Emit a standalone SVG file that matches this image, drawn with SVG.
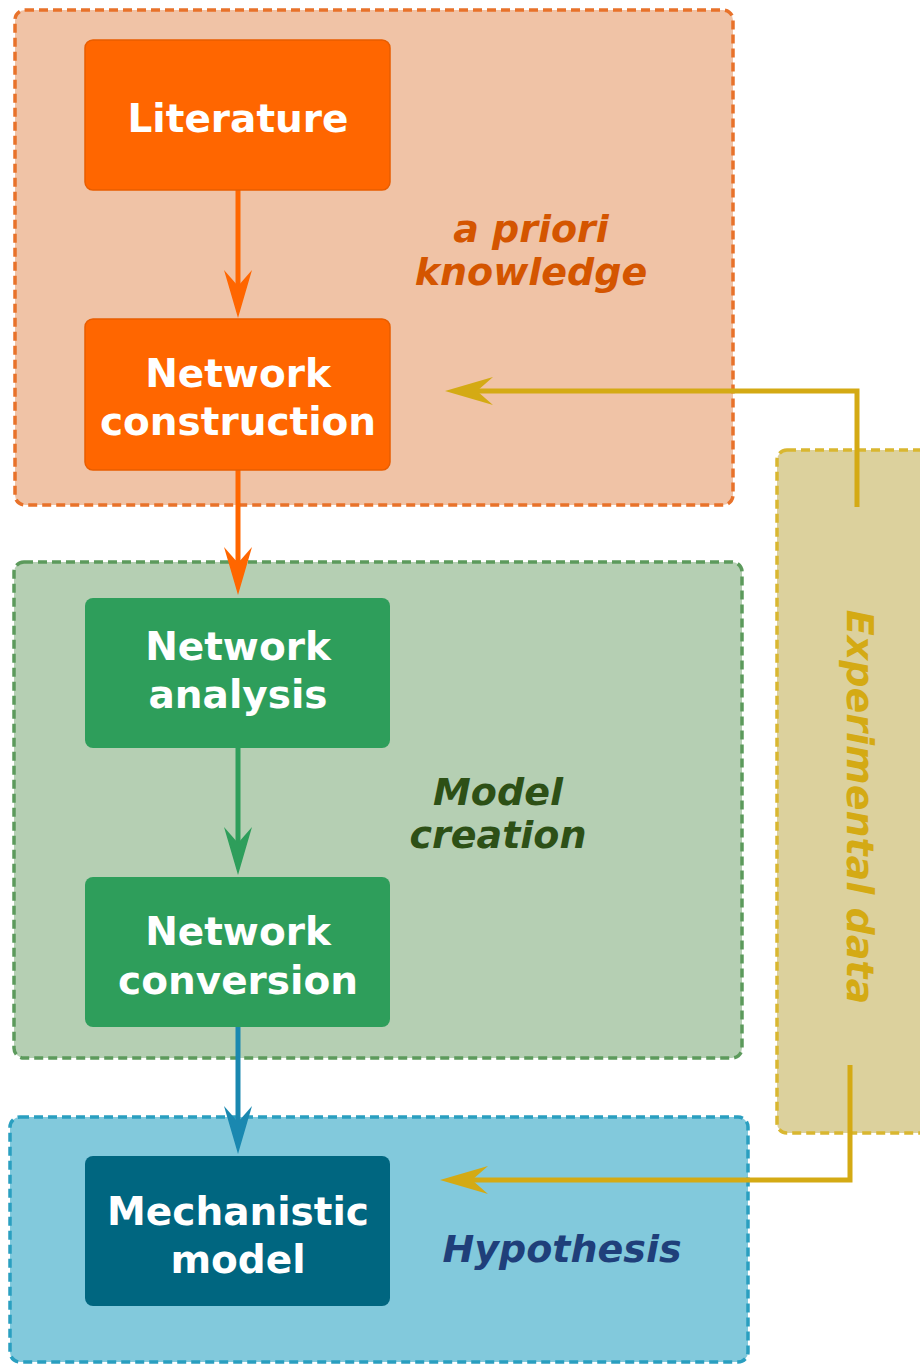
<svg xmlns="http://www.w3.org/2000/svg" width="920" height="1365" viewBox="0 0 920 1365">
<defs>
<style>
.cont{stroke-width:3.5;stroke-dasharray:9 5}
.node text{font-family:"DejaVu Sans",sans-serif;font-weight:bold;font-size:39px;fill:#ffffff;text-anchor:middle}
.lbl{font-family:"DejaVu Sans",sans-serif;font-weight:bold;font-style:italic;font-size:38px;text-anchor:middle}
.conn{fill:none;stroke-width:5}
</style>
<marker id="ao" markerUnits="userSpaceOnUse" viewBox="0 0 48 28" refX="16" refY="14" markerWidth="48" markerHeight="28" orient="auto"><path d="M0,0 L48,14 L0,28 L16,14 Z" fill="#ff6600"/></marker>
<marker id="ag" markerUnits="userSpaceOnUse" viewBox="0 0 48 28" refX="16" refY="14" markerWidth="48" markerHeight="28" orient="auto"><path d="M0,0 L48,14 L0,28 L16,14 Z" fill="#2e9e5b"/></marker>
<marker id="ab" markerUnits="userSpaceOnUse" viewBox="0 0 48 28" refX="16" refY="14" markerWidth="48" markerHeight="28" orient="auto"><path d="M0,0 L48,14 L0,28 L16,14 Z" fill="#1a88b0"/></marker>
<marker id="ay" markerUnits="userSpaceOnUse" viewBox="0 0 48 28" refX="16" refY="14" markerWidth="48" markerHeight="28" orient="auto"><path d="M0,0 L48,14 L0,28 L16,14 Z" fill="#d4aa14"/></marker>
</defs>
<rect width="920" height="1365" fill="#ffffff"/>

<g id="group-apriori">
<rect class="cont" x="15" y="10" width="718" height="495" rx="10" fill="#f0c3a6" stroke="#e8722a"/>
<text class="lbl" fill="#d45500" x="531" y="242">a priori</text>
<text class="lbl" fill="#d45500" x="531" y="285">knowledge</text>
</g>
<g id="group-model">
<rect class="cont" x="14" y="562" width="728" height="496" rx="10" fill="#b5cfb3" stroke="#5c9a5c"/>
<text class="lbl" fill="#2d5016" x="498" y="805">Model</text>
<text class="lbl" fill="#2d5016" x="498" y="848">creation</text>
</g>
<g id="group-hypothesis">
<rect class="cont" x="10" y="1117" width="738" height="245" rx="10" fill="#82c9dc" stroke="#2a9fc0"/>
<text class="lbl" fill="#1f3f7a" x="562" y="1262" font-size="40">Hypothesis</text>
</g>
<g id="group-experimental">
<rect class="cont" x="777" y="450" width="170" height="683" rx="10" fill="#dcd19d" stroke="#d9b730"/>
<text class="lbl" fill="#d4aa14" font-size="40" transform="translate(847,807) rotate(90)" x="0" y="0">Experimental data</text>
</g>

<g id="connectors">
<line class="conn" x1="238" y1="190" x2="238" y2="286" stroke="#ff6600" marker-end="url(#ao)"/>
<line class="conn" x1="238" y1="470" x2="238" y2="563" stroke="#ff6600" marker-end="url(#ao)"/>
<line class="conn" x1="238" y1="748" x2="238" y2="843" stroke="#2e9e5b" marker-end="url(#ag)"/>
<line class="conn" x1="238" y1="1027" x2="238" y2="1122" stroke="#1a88b0" marker-end="url(#ab)"/>
<polyline class="conn" points="857,507 857,391 477,391" stroke="#d4aa14" stroke-width="4.5" marker-end="url(#ay)"/>
<polyline class="conn" points="850,1065 850,1180 472,1180" stroke="#d4aa14" stroke-width="4.5" marker-end="url(#ay)"/>
</g>

<g id="node-literature" class="node">
<rect x="85" y="40" width="305" height="150" rx="8" fill="#ff6600" stroke="#e85d00" stroke-width="1.5"/>
<text x="238" y="132">Literature</text>
</g>
<g id="node-construction" class="node">
<rect x="85" y="319" width="305" height="151" rx="8" fill="#ff6600" stroke="#e85d00" stroke-width="1.5"/>
<text x="238" y="387">Network</text>
<text x="238" y="435">construction</text>
</g>
<g id="node-analysis" class="node">
<rect x="85" y="598" width="305" height="150" rx="8" fill="#2e9e5b"/>
<text x="238" y="660">Network</text>
<text x="238" y="708">analysis</text>
</g>
<g id="node-conversion" class="node">
<rect x="85" y="877" width="305" height="150" rx="8" fill="#2e9e5b"/>
<text x="238" y="945">Network</text>
<text x="238" y="994">conversion</text>
</g>
<g id="node-mechanistic" class="node">
<rect x="85" y="1156" width="305" height="150" rx="8" fill="#006680"/>
<text x="238" y="1225">Mechanistic</text>
<text x="238" y="1273">model</text>
</g>
</svg>
